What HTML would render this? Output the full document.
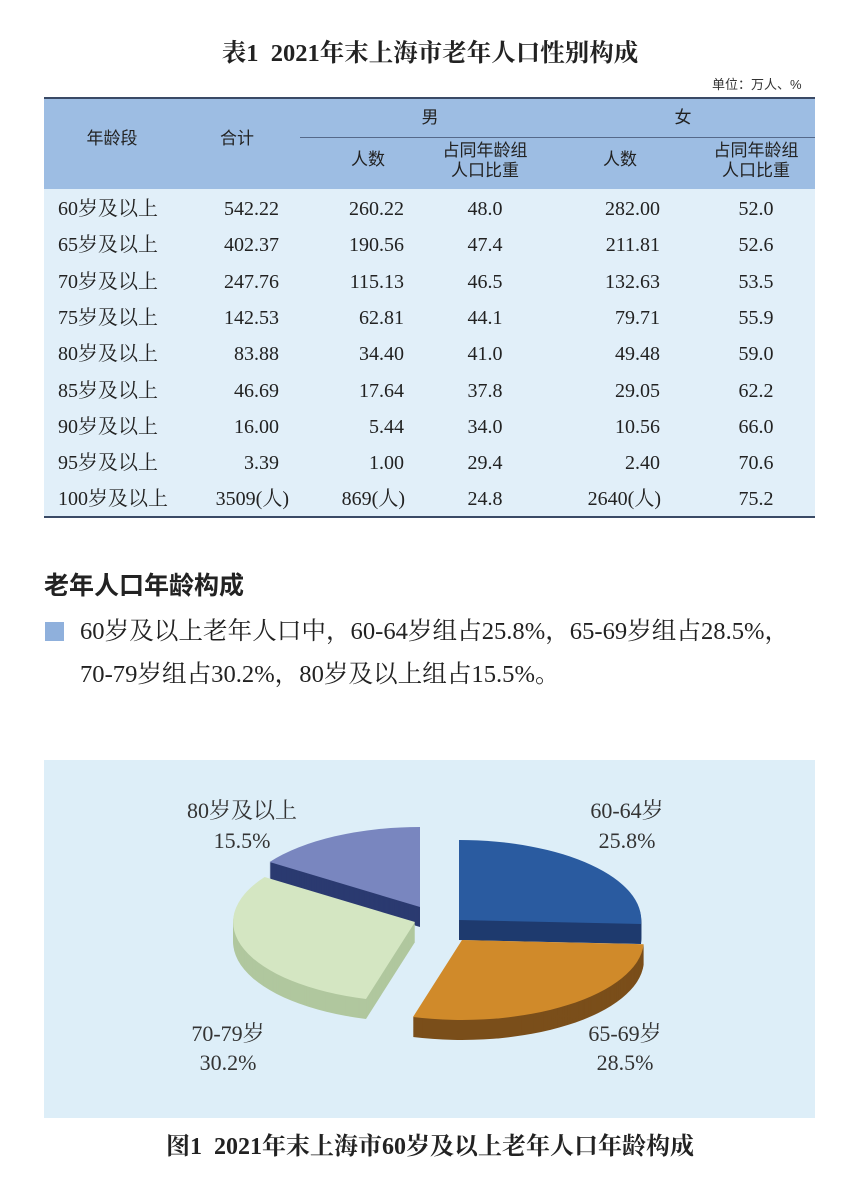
<!DOCTYPE html>
<html><head><meta charset="utf-8"><style>
body{margin:0;background:#fff;width:854px;height:1177px;position:relative;font-family:"Liberation Serif","Noto Serif CJK SC",serif;color:#222;overflow:hidden}
.a{position:absolute;white-space:nowrap;line-height:26px}
.s{font-family:"Liberation Sans","Noto Sans CJK SC",sans-serif}
.c{transform:translateX(-50%)}
.r{transform:translateX(-100%)}
.t{font-size:20px}
</style></head><body>
<div class="a c" style="left:430px;top:39px;font-size:24.5px;font-weight:bold;line-height:30px">表1&nbsp;&nbsp;2021年末上海市老年人口性别构成</div>
<div class="a s" style="left:712px;top:72px;font-size:13px;color:#333">单位：万人、%</div>
<div class="a" style="left:44px;top:97px;width:771px;height:90px;background:#9dbde3;border-top:2px solid #3a4a66;border-bottom:2px solid #3a4a66"></div>
<div class="a" style="left:300px;top:137px;width:515px;height:1px;background:#55698a"></div>
<div class="a" style="left:44px;top:189px;width:771px;height:327px;background:#e1eff9;border-bottom:2px solid #3a4a66"></div>
<div class="s" style="font-size:17px;color:#222">
<div class="a c" style="left:112px;top:126px">年龄段</div>
<div class="a c" style="left:237px;top:126px">合计</div>
<div class="a c" style="left:430px;top:105px">男</div>
<div class="a c" style="left:683px;top:105px">女</div>
<div class="a c" style="left:368px;top:147px">人数</div>
<div class="a c" style="left:485px;top:141px;line-height:20px;text-align:center">占同年龄组<br>人口比重</div>
<div class="a c" style="left:620px;top:147px">人数</div>
<div class="a c" style="left:756px;top:141px;line-height:20px;text-align:center">占同年龄组<br>人口比重</div>
</div>
<div id="rows"></div>
<script>
var d=[["60岁及以上","542.22","260.22","48.0","282.00","52.0"],["65岁及以上","402.37","190.56","47.4","211.81","52.6"],["70岁及以上","247.76","115.13","46.5","132.63","53.5"],["75岁及以上","142.53","62.81","44.1","79.71","55.9"],["80岁及以上","83.88","34.40","41.0","49.48","59.0"],["85岁及以上","46.69","17.64","37.8","29.05","62.2"],["90岁及以上","16.00","5.44","34.0","10.56","66.0"],["95岁及以上","3.39","1.00","29.4","2.40","70.6"],["100岁及以上","3509(人)","869(人)","24.8","2640(人)","75.2"]];
var h="";for(var i=0;i<d.length;i++){var y=196+i*36.3;var r=d[i];
h+='<div class="a t" style="left:58px;top:'+y+'px">'+r[0]+'</div>';
h+='<div class="a t r" style="left:'+(i==8?289:279)+'px;top:'+y+'px">'+r[1]+'</div>';
h+='<div class="a t r" style="left:'+(i==8?405:404)+'px;top:'+y+'px">'+r[2]+'</div>';
h+='<div class="a t c" style="left:485px;top:'+y+'px">'+r[3]+'</div>';
h+='<div class="a t r" style="left:'+(i==8?661:660)+'px;top:'+y+'px">'+r[4]+'</div>';
h+='<div class="a t c" style="left:756px;top:'+y+'px">'+r[5]+'</div>';}
document.getElementById("rows").innerHTML=h;
</script>
<div class="a s" style="left:44px;top:571px;font-size:25px;font-weight:bold;line-height:30px">老年人口年龄构成</div>
<div class="a" style="left:45px;top:622px;width:19px;height:19px;background:#8fb0dc"></div>
<div class="a" style="left:80px;top:617px;font-size:24.6px;line-height:30px">60岁及以上老年人口中，60-64岁组占25.8%，65-69岁组占28.5%，</div>
<div class="a" style="left:80px;top:660px;font-size:24.6px;line-height:30px">70-79岁组占30.2%，80岁及以上组占15.5%。</div>
<div class="a" style="left:44px;top:760px;width:771px;height:358px;background:#ddeef8"></div>
<svg class="a" style="left:0;top:0" width="854" height="1177">
<defs>
<path id="p1" d="M459 920 L459 840 A182 80 0 0 1 641 924 Z"/>
<path id="p2" d="M462 940 L643.7 944.2 A182 80 0 0 1 413 1017 Z"/>
<path id="p3" d="M415 922 L366 999 A182 80 0 0 1 264.6 877 Z"/>
<path id="p4" d="M420 907 L269.6 862 A182 80 0 0 1 420 827 Z"/>
</defs>
<g id="g"></g>
</svg>
<script>
var g=document.getElementById("g"),s="";
var sl=[["p4","#2b3a70","#7986bf"],["p1","#1e3a6e","#2a5ba0"],["p3","#b0c79e","#d4e6c2"],["p2","#7a4e1a","#d08a2a"]];
sl.forEach(function(x){for(var k=20;k>0;k--)s+='<use href="#'+x[0]+'" transform="translate(0,'+k+')" fill="'+x[1]+'"/>';s+='<use href="#'+x[0]+'" fill="'+x[2]+'"/>';});
g.innerHTML=s;
</script>
<div style="font-size:22px;color:#333">
<div class="a c" style="left:242px;top:798px">80岁及以上</div>
<div class="a c" style="left:242px;top:828px">15.5%</div>
<div class="a c" style="left:627px;top:798px">60-64岁</div>
<div class="a c" style="left:627px;top:828px">25.8%</div>
<div class="a c" style="left:228px;top:1021px">70-79岁</div>
<div class="a c" style="left:228px;top:1050px">30.2%</div>
<div class="a c" style="left:625px;top:1021px">65-69岁</div>
<div class="a c" style="left:625px;top:1050px">28.5%</div>
</div>
<div class="a c" style="left:430px;top:1132px;font-size:24px;font-weight:bold;line-height:30px">图1&nbsp;&nbsp;2021年末上海市60岁及以上老年人口年龄构成</div>
</body></html>
